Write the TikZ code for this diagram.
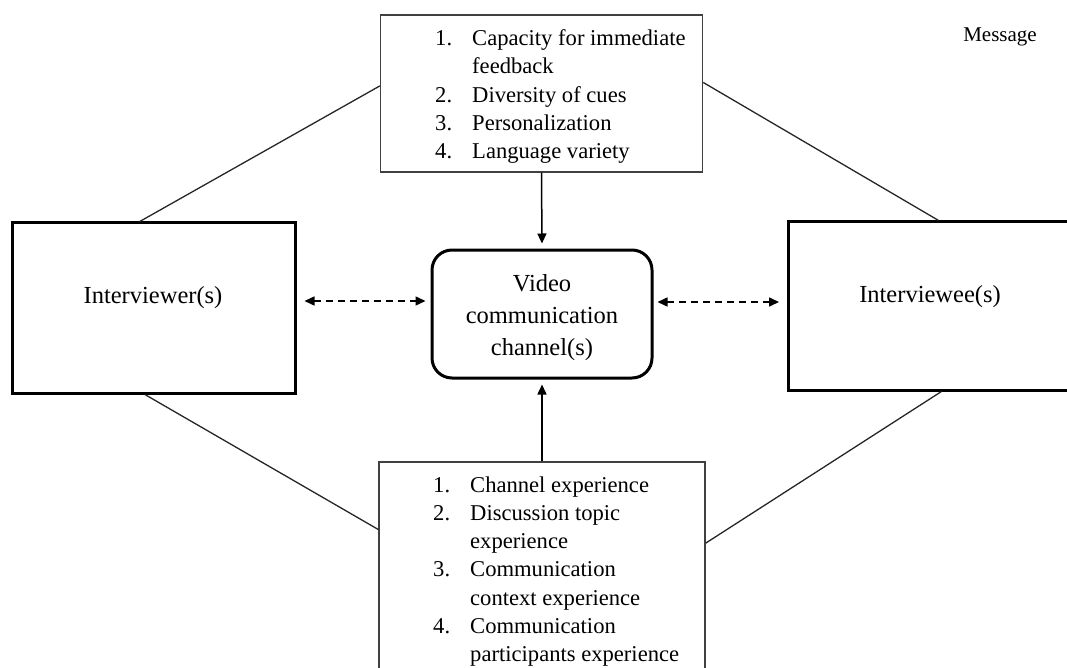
\documentclass[tikz,border=0pt]{standalone}
\usepackage{fontspec}
\setmainfont{Liberation Serif}
\usepackage{tikz}
\usetikzlibrary{arrows.meta}
\usetikzlibrary{positioning}
\usetikzlibrary{calc}
\tikzstyle{actor}=[
        draw,
        rectangle,
        line width=3pt,
        minimum width=283pt,
        minimum height=170pt
]
\tikzstyle{canal}=[draw,rectangle,rounded corners=20pt,line width=3pt,
minimum width=220pt,minimum height=128pt,align=center,
font=\fontsize{24.5}{32}\selectfont]
\tikzstyle{liste}=[rectangle,draw=black!75,line width=1.3pt]
\tikzstyle{items}=[align=left,inner sep=0pt,anchor=north west,
font=\fontsize{22.6}{28.2}\selectfont]
\tikzstyle{lien}=[line width=1.3pt,black!85]
\tikzstyle{fleche}=[-{Triangle[length=10pt,width=9pt]},line width=1.5pt]
\tikzstyle{pointille}=[{Triangle[length=10pt,width=9pt]}-{Triangle[length=10pt,width=9pt]},
line width=1.5pt,dash pattern=on 7pt off 5pt]
\newcommand{\litem}[2]{\makebox[37pt][l]{#1}#2}
\begin{document}
\begin{tikzpicture}[x=1pt,y=-1pt]
\useasboundingbox (0,0) rectangle (1067,668);
\node[actor] (ivr) at (153.5,308) {};
\node[actor,minimum height=168pt] (ive) at (930,306) {};
\node[font=\fontsize{24.5}{30}\selectfont] (ivrtxt) at (153,298) {Interviewer(s)};
\node[font=\fontsize{24.5}{30}\selectfont] (ivetxt) at (930,297) {Interviewee(s)};
\node[canal] (chan) at (542,314) {\rule{0pt}{24.5pt}Video\\communication\\channel(s)};
\node[liste,minimum width=322pt,minimum height=157pt] (msg) at (541.5,93.5) {};
\node[liste,minimum width=326pt,minimum height=226pt] (exp) at (542,575) {};
\node[items] (msgtxt) at (435,29.5) {\litem{1.}{Capacity for immediate}\\
\litem{}{feedback}\\
\litem{2.}{Diversity of cues}\\
\litem{3.}{Personalization}\\
\litem{4.}{Language variety}};
\node[items] (exptxt) at (433,476.5) {\litem{1.}{Channel experience}\\
\litem{2.}{Discussion topic}\\
\litem{}{experience}\\
\litem{3.}{Communication}\\
\litem{}{context experience}\\
\litem{4.}{Communication}\\
\litem{}{participants experience}};
\node[font=\fontsize{21}{25}\selectfont] (label) at (1000,37) {Message};
%liens
\draw[lien] ($(ivr.north west)!0.452!(ivr.north east)$) -- ($(msg.north west)!0.452!(msg.south west)$);
\draw[lien] ($(msg.north east)!0.43!(msg.south east)$) -- ($(ive.north west)!0.53!(ive.north east)$);
\draw[lien] ($(ivr.south west)!0.47!(ivr.south east)$) -- ($(exp.north west)!0.30!(exp.south west)$);
\draw[lien] ($(ive.south west)!0.54!(ive.south east)$) -- ($(exp.north east)!0.36!(exp.south east)$);
%fleches
\draw[fleche,shorten >=5pt] (msg.south) -- (chan.north);
\draw[fleche,shorten >=5pt] (exp.north) -- (chan.south);
\draw[pointille,shorten <=8pt,shorten >=5pt] ([yshift=7pt]ivr.east) -- ([yshift=7pt]ivr.east -| chan.west);
\draw[pointille,shorten <=4pt,shorten >=8pt] ([yshift=4pt]ive.west -| chan.east) -- ([yshift=4pt]ive.west);
\end{tikzpicture}
\end{document}
